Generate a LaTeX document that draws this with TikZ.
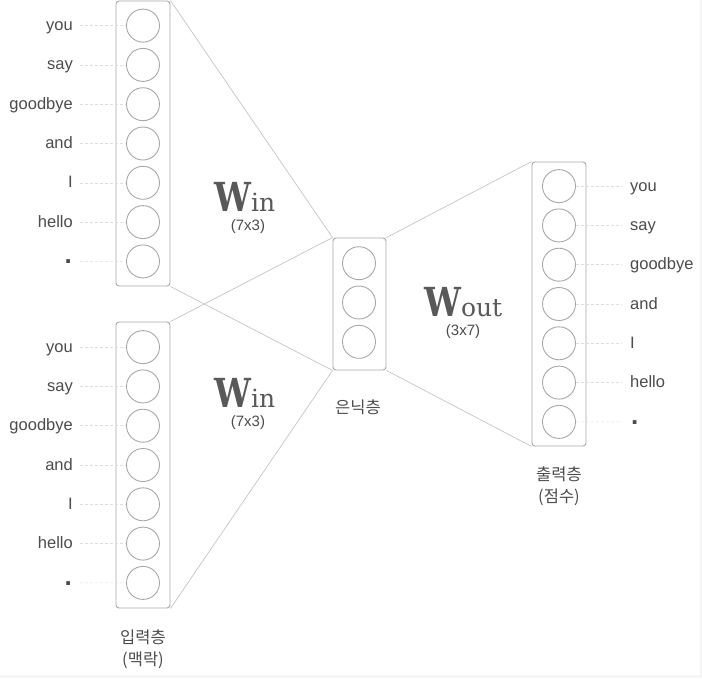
\documentclass[tikz,border=0pt]{standalone}
\usepackage{fontspec}
\usepackage{graphicx}
\setmainfont{Liberation Sans}
\newfontfamily\krfont{Noto Sans CJK KR}
\newfontfamily\serfont{DejaVu Serif}
\definecolor{txt}{HTML}{4C4C4C}
\definecolor{wcol}{HTML}{595959}
\definecolor{shape}{HTML}{A8A8A8}
\definecolor{conn}{HTML}{C6C6C6}
\definecolor{guidecol}{HTML}{DEDEDE}
\definecolor{edgecol}{HTML}{F5F5F5}
\begin{document}
\begin{tikzpicture}[x=1pt,y=-1pt,
  layerbox/.style={draw=shape, line width=0.9pt, rounded corners=3pt, minimum width=54pt, inner sep=0pt},
  unit/.style={circle, draw=shape, line width=0.9pt, minimum size=33pt, inner sep=0pt},
  conline/.style={draw=conn, line width=0.7pt},
  guide/.style={draw=guidecol, line width=0.6pt, dash pattern=on 3pt off 2pt},
  wordfont/.style={text=txt, font=\fontsize{16.5}{19}\selectfont, inner sep=0pt, text height=12pt, text depth=2pt},
  dotfont/.style={text=txt, font=\bfseries\fontsize{26}{26}\selectfont, inner sep=0pt},
  krlabel/.style={text=txt, font=\krfont\fontsize{16.5}{22}\selectfont, align=center, inner sep=0pt},
  dimlabel/.style={text=txt, font=\fontsize{15}{17}\selectfont, inner sep=0pt, anchor=base},
  wlabel/.style={text=wcol, inner sep=0pt, anchor=base west}
]
\useasboundingbox (0,0) rectangle (702,678);
\fill[white] (0,0) rectangle (702,678);
\fill[edgecol] (0,675) rectangle (702,678);
\fill[edgecol] (700,0) rectangle (702,678);

% layer boxes
\node[layerbox, minimum height=285pt] (T) at (143,143.5) {};
\node[layerbox, minimum height=286pt] (B) at (143,465) {};
\node[layerbox, minimum width=53pt, minimum height=132pt] (H) at (359.5,304) {};
\node[layerbox, minimum height=284pt] (O) at (559,304) {};

% connectors
\draw[conline] (T.north east) -- (H.north west);
\draw[conline] (T.south east) -- (H.south west);
\draw[conline] (B.north east) -- (H.north west);
\draw[conline] (B.south east) -- (H.south west);
\draw[conline] (H.north east) -- (O.north west);
\draw[conline] (H.south east) -- (O.south west);

% hidden units
\foreach \i in {1,2,3} {
  \node[unit] (h\i) at (359, 302.5+39.3*\i-78.6) {};
}

% input / output units with labels
\foreach \w [count=\i] in {you,say,goodbye,and,I,hello} {
  \node[unit] (t\i) at (143, 143.5+39.3*\i-157.2) {};
  \node[unit] (b\i) at (143, 465+39.3*\i-157.2) {};
  \node[unit] (o\i) at (559, 304+39.3*\i-157.2) {};
  \node[wordfont, anchor=east] (tl\i) at (73, 143.5+39.3*\i-157.2) {\w};
  \node[wordfont, anchor=east] (bl\i) at (73, 465+39.3*\i-157.2) {\w};
  \node[wordfont, anchor=west] (ol\i) at (630, 304+39.3*\i-157.2) {\w};
}
\node[unit] (t7) at (143, 143.5+39.3*3) {};
\node[unit] (b7) at (143, 465+39.3*3) {};
\node[unit] (o7) at (559, 304+39.3*3) {};
\node[dotfont, anchor=base east] (tl7) at (72, 143.5+39.3*3+2.5) {.};
\node[dotfont, anchor=base east] (bl7) at (72, 465+39.3*3+2.5) {.};
\node[dotfont, anchor=base west] (ol7) at (631, 304+39.3*3+2.5) {.};

% dashed guides
\foreach \i in {1,...,7} {
  \coordinate (tg\i) at (80, 143.5+39.3*\i-157.2);
  \coordinate (bg\i) at (80, 465+39.3*\i-157.2);
  \coordinate (og\i) at (622, 304+39.3*\i-157.2);
  \draw[guide] (tg\i) -- (t\i.west);
  \draw[guide] (bg\i) -- (b\i.west);
  \draw[guide] (o\i.east) -- (og\i);
}

% weight labels
\node[wlabel] (w1) at (214,211) {\scalebox{0.82}[1]{\serfont\bfseries\fontsize{40}{40}\selectfont W}{\serfont\fontsize{25}{25}\selectfont in}};
\node[dimlabel] (d1) at (248,230) {(7x3)};
\node[wlabel] (w2) at (214,407) {\scalebox{0.82}[1]{\serfont\bfseries\fontsize{40}{40}\selectfont W}{\serfont\fontsize{25}{25}\selectfont in}};
\node[dimlabel] (d2) at (248,426) {(7x3)};
\node[wlabel] (w3) at (424,316) {\scalebox{0.82}[1]{\serfont\bfseries\fontsize{40}{40}\selectfont W}{\serfont\fontsize{25}{25}\selectfont out}};
\node[dimlabel] (d3) at (463,335) {(3x7)};

% layer names
\node[krlabel] (ln) at (143,649) {입력층\\(맥락)};
\node[krlabel] (hn) at (358,407) {은닉층};
\node[krlabel] (on) at (559,486) {출력층\\(점수)};
\end{tikzpicture}
\end{document}
